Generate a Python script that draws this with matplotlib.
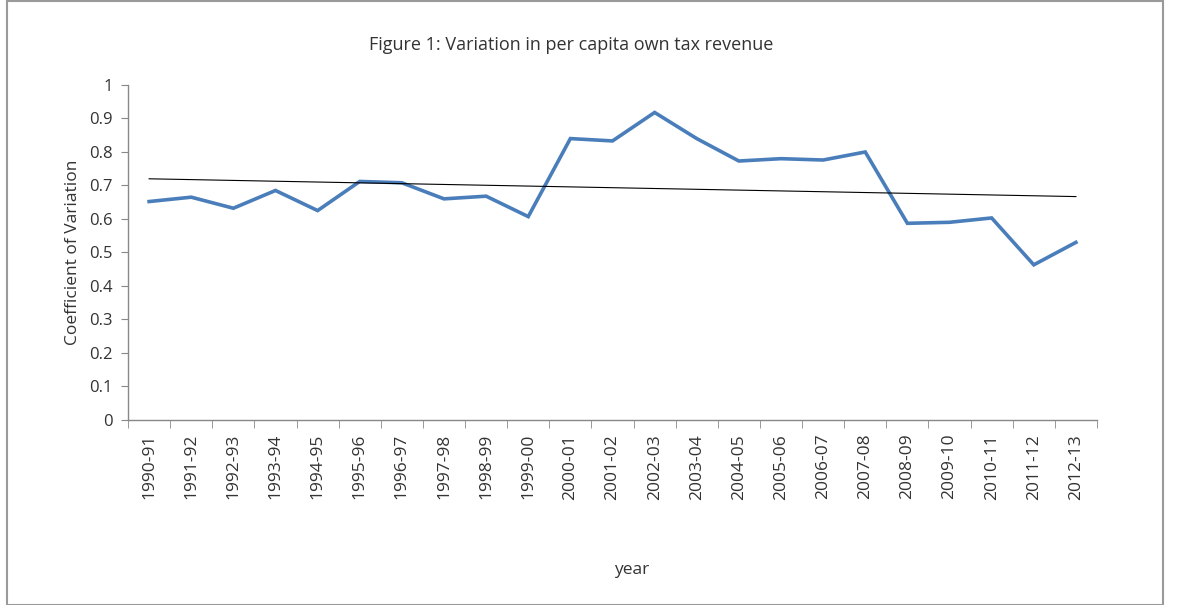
import numpy as np
import matplotlib.pyplot as plt
from matplotlib.patches import Rectangle

# Дані
years = ["1990-91", "1991-92", "1992-93", "1993-94", "1994-95", "1995-96",
         "1996-97", "1997-98", "1998-99", "1999-00", "2000-01", "2001-02",
         "2002-03", "2003-04", "2004-05", "2005-06", "2006-07", "2007-08",
         "2008-09", "2009-10", "2010-11", "2011-12", "2012-13"]
cv = [0.652, 0.665, 0.632, 0.685, 0.625, 0.712, 0.708, 0.660, 0.668, 0.607,
      0.840, 0.833, 0.918, 0.840, 0.773, 0.780, 0.776, 0.800, 0.587, 0.590,
      0.603, 0.463, 0.530]
y_ticks = [0, 0.1, 0.2, 0.3, 0.4, 0.5, 0.6, 0.7, 0.8, 0.9, 1]
y_tick_labels = ["0", "0.1", "0.2", "0.3", "0.4", "0.5", "0.6", "0.7", "0.8", "0.9", "1"]

plt.rcParams['font.family'] = ['Open Sans', 'DejaVu Sans']

fig = plt.figure(figsize=(11.78, 6.05), dpi=100)
ax = fig.add_axes([0.1087, 0.306, 0.8225, 0.5535])

x = np.arange(len(years))
ax.plot(x, cv, color='#4A7EBB', linewidth=2.6, solid_joinstyle='miter')

# Лінійний тренд
k, b = np.polyfit(x, cv, 1)
ax.plot(x, k * x + b, color='black', linewidth=0.8)

ax.set_xlim(-0.5, len(years) - 0.5)
ax.set_ylim(0, 1)
ax.set_yticks(y_ticks)
ax.set_yticklabels(y_tick_labels, fontsize=12, color='#333333')
ax.set_xticks(x)
ax.set_xticklabels(years, rotation=90, fontsize=12.5, color='#333333')
ax.set_xticks(np.arange(-0.5, len(years)), minor=True)
ax.tick_params(axis='x', which='major', length=0, pad=10)
ax.tick_params(axis='x', which='minor', length=6, color='#888888', direction='out')
ax.tick_params(axis='y', length=5, color='#888888', direction='out', pad=6)

for s in ['top', 'right']:
    ax.spines[s].set_visible(False)
for s in ['left', 'bottom']:
    ax.spines[s].set_color('#888888')
    ax.spines[s].set_linewidth(1.0)

ax.set_ylabel("Coefficient of Variation", fontsize=12.5, color='#333333', labelpad=6)
fig.text(0.536, 0.045, "year", fontsize=12.5, color='#333333', ha='center', va='bottom')
fig.text(0.485, 0.925, "Figure 1: Variation in per capita own tax revenue",
         fontsize=13, color='#333333', ha='center', va='center')

# Рамка навколо діаграми
fig.patches.append(Rectangle((0.006, 0.0), 0.981, 0.998, transform=fig.transFigure,
                             fill=False, edgecolor='#9a9a9a', linewidth=1.5))

fig.savefig("out.png", dpi=100)
